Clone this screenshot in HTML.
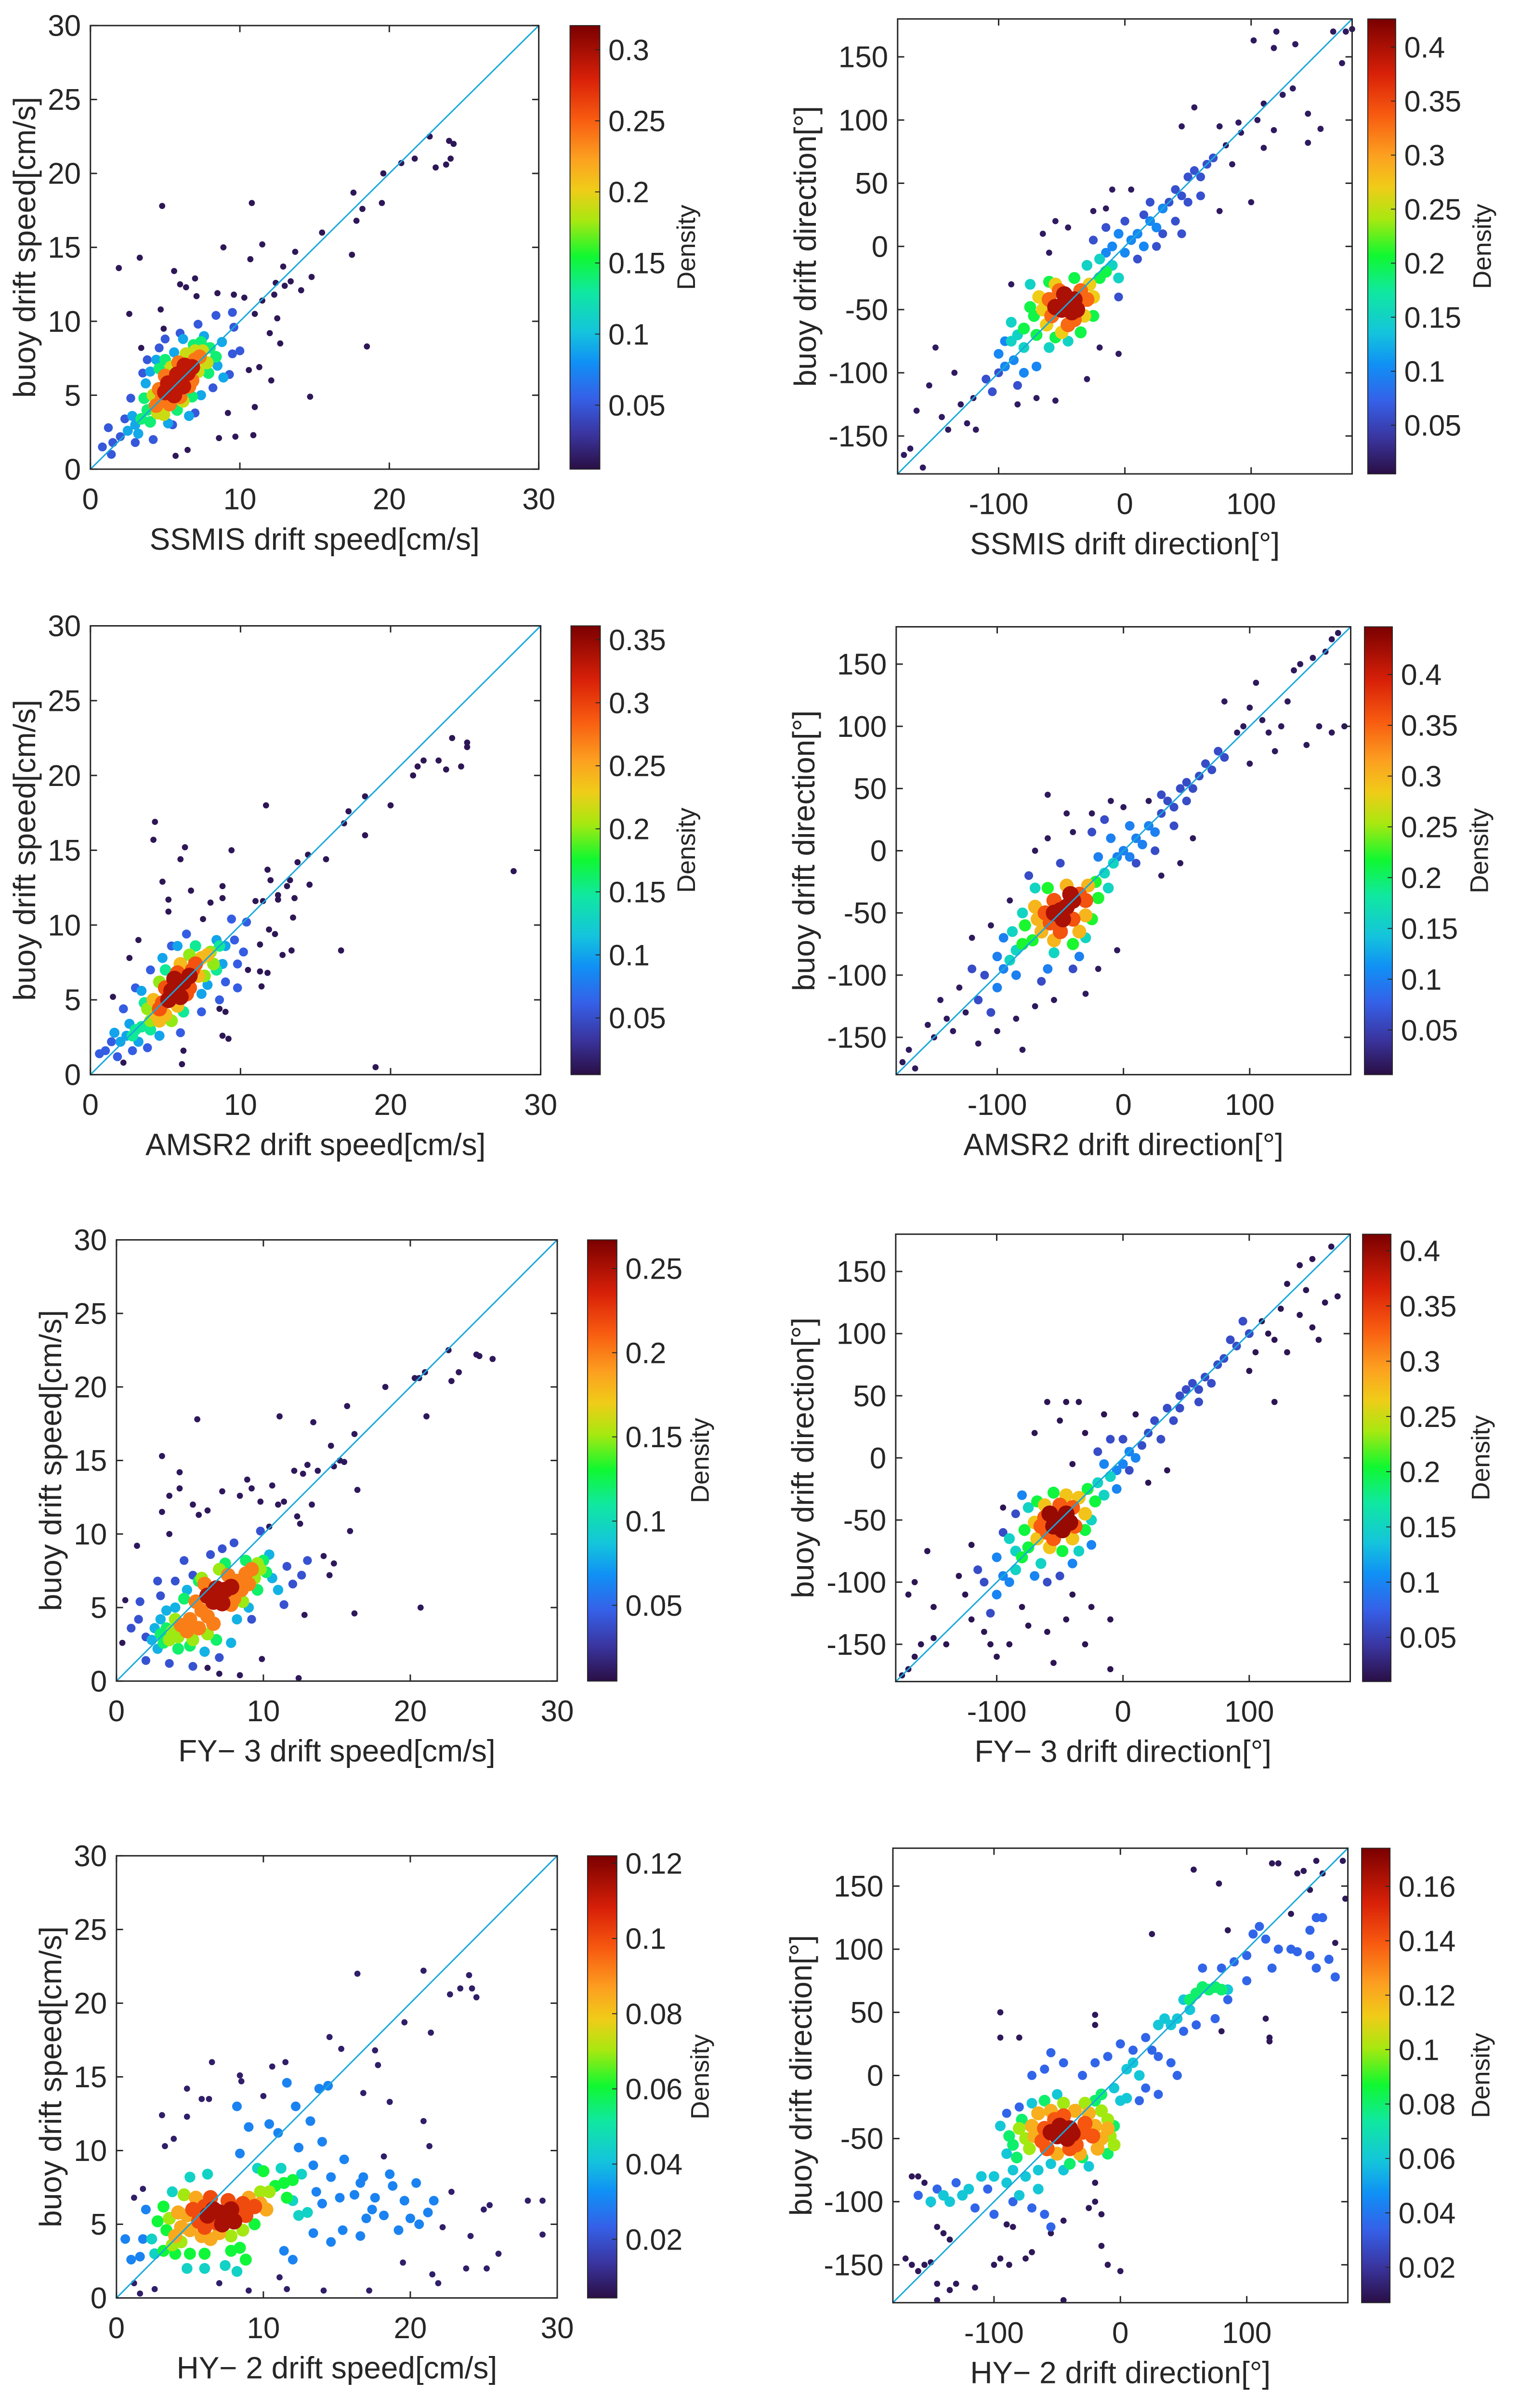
<!DOCTYPE html>
<html><head><meta charset="utf-8"><title>Drift density scatter</title>
<style>
html,body{margin:0;padding:0;background:#fff;overflow:hidden;}
svg{display:block;font-family:"Liberation Sans",Arial,sans-serif;}
</style></head>
<body>
<svg id="fig" xmlns="http://www.w3.org/2000/svg" width="3183" height="5072" viewBox="0 0 3183 5072">
<defs>
<linearGradient id="cmap" x1="0" y1="1" x2="0" y2="0">
<stop offset="0" stop-color="#2a0f45"/><stop offset="0.08" stop-color="#3a35a0"/><stop offset="0.16" stop-color="#3560e8"/>
<stop offset="0.24" stop-color="#1090f5"/><stop offset="0.31" stop-color="#14c4dc"/><stop offset="0.40" stop-color="#10e8a0"/>
<stop offset="0.48" stop-color="#10f830"/><stop offset="0.56" stop-color="#a8e810"/><stop offset="0.63" stop-color="#f0cc18"/>
<stop offset="0.70" stop-color="#fca020"/><stop offset="0.79" stop-color="#f85a10"/><stop offset="0.88" stop-color="#d82008"/>
<stop offset="1" stop-color="#7a0000"/>
</linearGradient>
</defs>
<g id="root" transform="scale(0.983)"></g>
</svg>
<script>
// ---------- DATA (point groups: each group has one density value) ----------
const ssmisSpeedDensity=[0.01,0.05,0.09,0.14,0.19,0.24,0.29];
const ssmisSpeedPts=[
[[10.3,11.6],[11,10.5],[11.5,11.4],[12.3,11.8],[12.5,10.2],[12,9.2],[13,12.4],[12.7,8.5],[13.7,14.7],[15.5,16],[14.8,13],[17.5,14.5],[17.8,16.8],[18.2,17.6],[17.6,18.7],[19.5,18],[19.6,20],[20.8,20.7],[21.7,21],[22.7,22.5],[23.1,20.4],[23.8,20.6],[24,22.2],[24.3,22],[24.1,21],[18.5,8.3],[14.7,4.9],[10.8,18],[4.8,17.8],[1.9,13.6],[3.3,14.3],[8.9,15],[11.5,15.2],[10.7,14.2],[5.6,13.4],[2.6,10.5],[4.7,10.8],[6,12.5],[6.4,12.3],[7,12.9],[8.5,11.9],[9.6,11.8],[11,4.2],[10.9,2.3],[9.7,2.2],[8.6,2.1],[6.5,1.3],[5.7,0.9],[9.2,3.8],[10.6,6.7],[12.1,6],[11.3,6.9],[7.1,11.7],[13.4,12.7],[12.9,13.7],[14.1,12.1],[12.4,12.6],[3.4,8.2],[4.9,9.5]],
[[2,2.2],[1.5,1.8],[2.3,3.4],[1.2,2.8],[3.5,6.5],[4.6,8.2],[9.6,9.6],[9.5,7.8],[8.2,5.5],[7,3.8],[4.2,2],[5.5,3],[3,1.8],[6,9.2],[9.5,10.6],[10,8],[2.7,4.8],[5,8.8],[0.8,1.5],[1.4,1],[9.3,6.4],[7.2,9.8],[8.4,10.4],[3.8,7.4]],
[[3,3],[2.8,3.6],[3.2,2.4],[8.8,8.6],[8.5,7],[7.4,5],[4,6.6],[5.2,3.1],[6.2,8.8],[3.7,5.8],[7.6,9],[2.5,2.6],[5.6,7.9],[8.9,6.2],[4.4,7.4],[6.6,3.6]],
[[3.8,4],[4,3.2],[8,8.2],[7.9,6.5],[5,7.4],[6.9,8.4],[3.6,4.8],[6.8,4.9],[4.6,6.8],[3.4,3.4],[8.4,7.6],[5.8,4],[7.4,8.6],[4.2,4.2]],
[[7.5,8],[4.2,5],[6.2,4.6],[5.4,6.9],[7.2,6.6],[4.5,3.8],[6.4,7.8],[7.8,7.2],[4.9,3.7],[7,8]],
[[4.8,4.8],[7,7.4],[5,6.3],[6.6,5.6],[7.3,7.6],[4.6,5.4],[5.9,7.2],[6.8,6],[5.3,4.4],[4.4,4.3],[6,4.9]],
[[5.5,5.5],[6,6],[5.8,6.4],[6.2,5.6],[5.2,5.8],[6.5,6.5],[5.6,5],[6.8,6.9],[5,5.2],[6.3,7]]
];
const ssmisDirDensity=[0.015,0.06,0.1,0.15,0.2,0.27,0.33,0.4];
const ssmisDirPts=[
[[-120,-120],[-130,-125],[-125,-140],[-140,-145],[-145,-135],[-150,-80],[-155,-110],[-165,-130],[-170,-160],[-175,-165],[-160,-175],[-135,-100],[-118,-145],[-90,-30],[-85,-125],[-70,-120],[-55,-122],[-65,10],[-55,20],[-45,15],[-60,-5],[-25,28],[-10,45],[5,45],[-15,30],[-30,-105],[-5,-85],[-20,-80],[75,95],[55,110],[45,95],[90,98],[80,80],[85,65],[100,35],[75,28],[110,78],[105,100],[110,113],[118,92],[125,120],[133,125],[145,105],[145,82],[155,93],[135,160],[120,170],[118,157],[102,163],[165,170],[172,145],[175,170],[180,172],[92,90]],
[[35,35],[40,45],[45,40],[50,55],[55,60],[60,55],[65,65],[-25,5],[-15,15],[0,20],[10,-10],[25,0],[20,35],[40,20],[30,10],[50,35],[70,70],[60,40],[-5,-40],[-100,-100],[-110,-105],[-105,-115],[-85,-110],[15,25],[45,10]],
[[-95,-95],[-88,-90],[-100,-85],[0,-5],[5,5],[-10,0],[10,10],[15,0],[20,20],[-80,-100],[-15,-5],[-95,-75],[25,15],[30,30],[-70,-95],[-5,10]],
[[-80,-80],[-85,-70],[-10,-15],[-20,-10],[-90,-75],[-30,-15],[-60,-80],[-5,-25],[-45,-75],[-75,-30],[-90,-60]],
[[-70,-70],[-20,-25],[-72,-55],[-60,-28],[-25,-55],[-80,-65],[-15,-20],[-40,-25],[-55,-72],[-35,-68],[-75,-48]],
[[-62,-62],[-28,-30],[-65,-50],[-55,-30],[-32,-55],[-25,-40],[-50,-68],[-68,-40]],
[[-58,-55],[-35,-35],[-52,-35],[-40,-58],[-30,-42],[-60,-42],[-45,-62]],
[[-45,-45],[-50,-50],[-40,-42],[-48,-38],[-42,-52],[-55,-48],[-38,-50]]
];
const amsrSpeedDensity=[0.01,0.06,0.1,0.15,0.2,0.24,0.29,0.34];
const amsrSpeedPts=[
[[2.2,0.8],[2.6,7.8],[1.5,5.2],[3.2,9],[4.3,16.9],[4.2,15.7],[6.3,15.2],[6,14.4],[4.8,12.9],[5.2,11.7],[5.2,10.9],[6.7,12.3],[7.5,10.4],[8,11.5],[8.8,12.6],[8.8,11.8],[9.4,15],[11.7,18],[11.8,13.7],[12,13],[12.5,12],[11.5,11.6],[11,11.6],[12.5,11.7],[13.1,12.6],[13.3,13],[13.6,11.8],[13.5,10.5],[13.4,8.3],[12.8,8],[12.3,9.4],[11.9,9.7],[11.3,8.7],[11.3,6.9],[11.4,5.9],[11.8,6.8],[10.5,7],[9,4.2],[8.6,4.4],[8.8,2.6],[9.2,2.4],[6.1,0.7],[6.2,1.6],[13.8,14.2],[14.5,14.7],[15.7,14.4],[14.6,12.7],[16.9,16.8],[17.2,17.6],[16.7,8.3],[18.3,16],[18.3,18.6],[20,18],[21.5,20],[21.8,20.6],[22.2,21],[23.2,21],[23.7,20.4],[24.1,22.5],[24.7,20.6],[25.1,22.2],[25.1,21.9],[19,0.5],[28.2,13.6]],
[[1,1.6],[0.6,1.4],[1.4,2.2],[1.8,1.2],[2.2,4.4],[3,5.8],[4,7],[5.4,8.6],[6.4,9.4],[9.4,10.4],[9.6,9],[9.8,7.4],[9,6.2],[8.6,5],[7.4,4.2],[6,2.8],[3.8,1.8],[2.8,1.6],[9.8,5.8],[10.4,10.2],[10.2,8.2]],
[[2.4,2.6],[2.6,3.4],[2,2.2],[9,8.6],[8.8,7.4],[7.8,6],[3.4,5.6],[4.8,7.8],[4.6,2.6],[3.2,2.2],[5.8,8.6],[7.4,5.4],[1.6,2.8],[8.4,9]],
[[3.4,3.2],[3,3],[8.6,8.6],[8.4,7],[3.6,4.8],[5,7],[6.2,4.2],[7,8.6],[2.8,2.6],[4,3]],
[[4,3.6],[8,8.2],[3.8,4.4],[7.6,6.6],[5.4,3.6],[6.6,8],[8.2,7.4],[4.6,6.2]],
[[4.4,4],[7.4,7.8],[5,4],[7.2,6.6],[4.2,5],[6,7.4],[7.8,8],[4.6,3.6],[5.8,4.6]],
[[4.8,4.8],[6.8,7],[5,5.8],[6.4,5.4],[7,7.4],[4.6,4.4],[5.8,6.8],[6.6,5.8]],
[[5.8,5.8],[6.2,6.2],[5.4,5.6],[6,5.2],[5.6,6.4],[6.6,6.6],[5.2,5]]
];
const amsrDirDensity=[0.015,0.06,0.1,0.16,0.22,0.3,0.36,0.42];
const amsrDirPts=[
[[-175,-170],[-170,-160],[-165,-175],[-150,-150],[-155,-140],[-140,-135],[-145,-120],[-135,-145],[-130,-110],[-125,-130],[-115,-155],[-100,-145],[-85,-135],[-80,-160],[-70,-125],[-55,-120],[-30,-115],[-20,-95],[-5,-80],[-105,-60],[-120,-70],[-90,-40],[-60,45],[-45,30],[-40,15],[-60,10],[-70,0],[-25,30],[-10,40],[0,35],[20,40],[30,-20],[45,-10],[55,10],[90,95],[95,100],[100,115],[80,120],[105,135],[110,105],[115,95],[125,100],[130,120],[135,145],[140,150],[150,155],[160,160],[165,170],[170,175],[155,100],[165,95],[175,100],[145,85],[120,80],[100,70]],
[[30,30],[35,40],[40,35],[45,50],[50,55],[55,50],[60,60],[65,70],[70,65],[50,40],[40,20],[30,45],[-25,15],[-15,25],[10,-10],[25,0],[-110,-100],[-115,-120],[-105,-130],[-120,-95],[75,80],[80,75],[-65,-105],[-40,-95],[-75,-20],[-50,-10]],
[[-95,-95],[-100,-85],[-5,-5],[0,0],[5,-5],[10,10],[15,5],[-10,10],[20,20],[-95,-70],[-85,-100],[-20,-5],[25,15],[5,20],[-60,-95],[-35,-85],[-100,-110]],
[[-85,-80],[-15,-18],[-88,-65],[-12,-30],[-70,-30],[-55,-82],[-30,-70],[-90,-88],[-8,-10],[-80,-50]],
[[-72,-72],[-22,-25],[-78,-60],[-20,-38],[-60,-30],[-40,-75],[-25,-55],[-80,-75]],
[[-65,-65],[-28,-28],[-68,-55],[-45,-28],[-30,-52],[-55,-72],[-70,-45],[-35,-65]],
[[-58,-58],[-35,-35],[-55,-40],[-40,-55],[-62,-50],[-30,-40],[-50,-65]],
[[-45,-45],[-50,-48],[-40,-40],[-48,-55],[-55,-50],[-42,-35]]
];
const fySpeedDensity=[0.01,0.04,0.08,0.12,0.15,0.2,0.25];
const fySpeedPts=[
[[0.6,5.5],[0.4,2.6],[1.4,9.2],[3.1,15.3],[3.1,11.5],[4.3,14.2],[4.3,13.1],[3.6,12.6],[3.6,10],[5.5,17.8],[5.2,12],[5.6,11.3],[6.2,11.6],[7.2,12.9],[8.9,13.7],[8.4,12.6],[9.2,13.1],[9.8,12.2],[10.6,13.3],[11.1,18],[11,12],[12.1,14.3],[12.7,14.1],[13,14.7],[13.4,17.6],[13.7,14.3],[14.6,16],[14.8,14.6],[15.2,15],[15.5,14.9],[15.7,18.7],[16.2,16.8],[16.4,13],[15.9,10.2],[14.8,8],[14.5,7.2],[14.1,8.5],[16.2,4.6],[12.8,4.5],[12.4,0.2],[9.9,1.5],[8.4,0.4],[7,0.5],[6.2,0.9],[18.3,20],[20.3,20.6],[20.6,20.6],[21,21],[21.1,18],[22.6,22.5],[22.8,20.4],[23.3,21],[24.5,22.2],[24.7,22.1],[25.6,21.9],[20.7,5],[10.4,10.5],[12.5,10.7],[11.4,12.2],[13.3,12],[12.3,11.2]],
[[1.5,4.2],[1.6,5.4],[2,3],[3,5.8],[4,6.8],[5.2,7.2],[6.4,8.6],[7.2,9],[8,9.4],[11.6,7.8],[12,6.6],[11.4,5.2],[9.2,4.2],[7,1.6],[5.2,1],[3.6,1.2],[2,1.4],[12.6,7.2],[9.8,10.2],[4.6,8.2],[1,3.6],[13,8.2],[2.8,6.8]],
[[2.8,2.2],[2.6,3.6],[10.6,7],[9,5],[4,5],[3.4,4.8],[6,2],[7.8,2.6],[10.4,8.6],[3,4.2],[2.4,2.8],[8.2,4.2],[11,6.2],[4.8,6.2]],
[[3.4,3.6],[3.2,2.6],[10,8.2],[9.6,6.2],[5,2.4],[6.8,2.8],[4.6,5.6],[7.4,8],[8.8,8.2],[3,3.2],[10.2,7.4],[4.2,2.2],[5.6,6.8]],
[[4.2,3],[9.6,8],[5.2,2.8],[9.4,7],[4,4.2],[7,7.6],[3.8,3.4],[8.6,5.4],[6.2,3.2],[5.8,7],[9.8,7.6],[3.6,2.8]],
[[5.8,4.8],[8.2,6.8],[6.2,4.4],[8.5,6.2],[5.4,5.4],[7.6,7.2],[5,4.2],[8.8,7.3],[6.6,3.9],[5.6,3.6],[4.8,3.4],[9.2,7.6],[7.8,5.2],[6,6.6],[9,6.6],[4.4,3.8],[8,5.6]],
[[7,5.8],[6.6,5.4],[7.4,6.2],[6.8,6.3],[7.2,5.3],[6.2,5.8],[7.8,6.4]]
];
const fyDirDensity=[0.015,0.06,0.1,0.15,0.2,0.27,0.33,0.4];
const fyDirPts=[
[[-170,-170],[-165,-160],[-175,-175],[-160,-150],[-150,-145],[-140,-150],[-150,-120],[-170,-110],[-165,-100],[-155,-75],[-120,-130],[-125,-110],[-130,-95],[-110,-140],[-105,-150],[-100,-160],[-90,-150],[-80,-120],[-75,-135],[-60,-140],[-45,-130],[-40,-110],[-25,-120],[-10,-130],[-30,-150],[-55,-165],[-10,-170],[-60,45],[-45,45],[-35,45],[-50,30],[-70,20],[-40,-5],[-30,20],[-15,35],[10,35],[20,-20],[35,-10],[-95,-40],[-120,-70],[110,110],[115,100],[105,85],[120,95],[125,120],[130,140],[140,155],[150,160],[165,170],[170,130],[160,125],[150,105],[140,115],[130,85],[120,45],[100,70],[155,95],[145,135]],
[[20,20],[15,10],[25,30],[35,40],[40,30],[45,50],[50,55],[55,60],[60,55],[65,65],[70,60],[75,75],[80,80],[45,40],[30,15],[85,95],[90,90],[-20,5],[-10,15],[5,-10],[-110,-100],[-105,-125],[-115,-90],[-60,-100],[-50,-95],[-95,-60],[-85,-45],[0,15],[60,45],[100,100],[95,110]],
[[-95,-95],[-90,-100],[-100,-80],[-5,-10],[0,-5],[5,5],[-15,-5],[-80,-30],[-70,-95],[-25,-70],[10,0],[-5,-25],[-100,-110],[-40,-85]],
[[-85,-75],[-20,-20],[-85,-90],[-90,-65],[-15,-30],[-65,-85],[-35,-75],[-75,-40],[-25,-50],[-10,-15]],
[[-75,-72],[-28,-25],[-78,-58],[-48,-75],[-30,-58],[-22,-35],[-68,-35],[-55,-28],[-80,-80]],
[[-68,-65],[-35,-32],[-70,-52],[-45,-30],[-30,-45],[-58,-72],[-40,-65],[-62,-38]],
[[-60,-60],[-40,-40],[-62,-48],[-50,-38],[-38,-55],[-55,-65],[-65,-55]],
[[-50,-50],[-55,-55],[-45,-45],[-48,-58],[-58,-45],[-42,-52]]
];
const hySpeedDensity=[0.008,0.03,0.045,0.06,0.07,0.085,0.1,0.115];
const hySpeedPts=[
[[3.1,12.4],[3.3,10.3],[3.9,10.8],[4.8,12.3],[4.8,14.2],[6.3,13.5],[6.5,16],[8.4,15.1],[8.5,14.7],[10.6,15.7],[11.5,16],[14.5,17.7],[15.3,16.9],[16.4,22],[17.6,16.8],[17.8,15.8],[18.6,13.3],[19.6,18.7],[20.9,22.2],[21.4,18],[21.3,10.3],[20.9,12],[22.7,20.6],[23.4,21],[24,21.9],[24.2,21],[24.5,20.4],[28,6.6],[29,6.6],[29,4.3],[25.4,6.3],[25,6],[26,3],[24.1,4.2],[23.8,2],[25.2,2],[22.2,4.8],[21.9,1],[21.5,1.6],[19.5,2.4],[17.2,0.5],[14.1,0.5],[11.6,0.6],[11.1,1.4],[9,0.5],[2.6,0.6],[1.6,0.3],[1.2,1],[1.8,7.4],[1.2,6.8],[16.8,13.9],[22.8,7.2],[18.2,9.6],[10,13.7],[5.8,13.5],[7,1]],
[[13.6,7.2],[14,6.4],[13.4,9],[14,10.6],[13.2,12],[12.2,13],[11,11.2],[10.4,11.8],[14.6,8.2],[15.2,6.8],[16.2,7],[16.8,8.2],[17.4,6],[18.2,5.6],[18.8,7.6],[19.6,6.6],[20,5.4],[19.2,4.6],[20.6,5],[21.6,6.6],[16.6,4.2],[15.4,4.6],[14.6,3.8],[13.4,4.4],[12,2.6],[11.4,3.2],[12.4,10.2],[13.8,14.2],[14.4,14.4],[11.6,14.6],[9,11.6],[8.2,13],[1.8,4],[1,2.6],[0.6,4],[1.6,2.8],[17.6,6.8],[18.6,8.4],[2,6],[8.4,9.8],[15.5,9.4],[20.4,7.8],[21.2,5.8],[16.6,7.8],[17,5.4]],
[[2.6,3],[2.4,4],[6,2],[7.4,2.2],[8.2,1.8],[4.8,2],[12,6.6],[12.4,5.6],[11.2,8.8],[9.6,8.8],[13,5.8],[12.6,8.4],[3.8,7.2],[5,8.2],[6.2,8.4]],
[[3.2,3.2],[3.4,4.6],[2.8,5.2],[10.8,7.6],[11.4,7.8],[11.6,6.8],[8.4,3.4],[8.8,2.6],[7.8,3.2],[5,3],[6,3],[3.2,6.2],[9.4,5],[10,8.6],[12,8],[4,3]],
[[3.8,3.6],[4.4,3.8],[7.8,4.2],[9.8,7.2],[8.6,4.6],[4.6,7],[3.6,5.4],[10.4,7.2]],
[[4.8,5.6],[5,4.6],[9.8,6.4],[4.4,4.8],[5.8,4.2],[9,6.8],[4.2,5.8],[7,4.4],[6.4,4],[5.4,6.8],[10.2,6],[4,4.2]],
[[6,6.2],[8.3,5.8],[6.8,5.1],[5.6,5.2],[8.6,6.4],[6.4,6.8],[7.6,6.6],[5.2,6],[8.8,5.6],[9.4,6.2],[6,4.8]],
[[7,5.8],[7.5,5.4],[6.6,6],[7.8,6],[7.2,5],[6.2,5.6],[8,5.2]]
];
const hyDirDensity=[0.01,0.035,0.06,0.08,0.1,0.12,0.14,0.165];
const hyDirPts=[
[[-170,-145],[-165,-150],[-160,-155],[-155,-150],[-150,-148],[-145,-165],[-135,-170],[-130,-165],[-115,-168],[-100,-150],[-95,-145],[-88,-150],[-75,-145],[-70,-140],[-90,-118],[-85,-120],[-55,-125],[-45,-115],[-25,-105],[-15,-110],[-15,-135],[-10,-150],[0,-155],[-45,-178],[-145,-178],[-160,-80],[-165,-80],[-155,-85],[-150,-102],[-145,-120],[-140,-125],[-135,-130],[-95,50],[-95,30],[-80,30],[-20,48],[-20,40],[-35,-25],[-20,-85],[-20,-100],[25,112],[58,163],[78,152],[85,115],[80,35],[115,45],[118,30],[118,27],[135,128],[150,147],[160,160],[155,170],[170,105],[178,140],[176,170],[120,168],[125,168],[140,160],[145,162]],
[[-105,-90],[-115,-105],[-145,-90],[-130,-85],[-100,-110],[-160,-95],[-85,-100],[-70,-105],[-60,-110],[-55,-120],[-90,-30],[-80,-25],[-70,0],[-60,5],[-55,18],[-45,10],[-30,0],[-20,10],[-10,15],[0,25],[10,20],[20,30],[25,20],[30,15],[40,10],[20,-10],[15,-20],[30,-15],[45,0],[50,35],[60,40],[65,85],[80,85],[75,45],[85,60],[90,90],[100,75],[100,95],[105,112],[110,118],[115,108],[120,85],[125,100],[135,100],[140,98],[150,95],[150,115],[155,125],[160,125],[155,85],[165,92],[170,78]],
[[-90,-62],[-85,-75],[-75,-80],[-90,-85],[-65,-75],[-55,-70],[-45,-75],[-25,-72],[0,-20],[5,-18],[10,10],[-5,-10],[30,40],[35,45],[40,40],[45,45],[50,60],[55,52],[85,68],[-95,-40],[-70,-22],[-50,-15],[-100,-80],[-110,-80],[-120,-90],[-125,-95],[-135,-100],[-140,-95],[-150,-100],[-80,-95],[-65,-90],[5,5],[15,0]],
[[-85,-55],[-82,-65],[-78,-35],[-5,-40],[-20,-20],[-30,-65],[-10,-62],[-40,-70],[-88,-48],[-60,-20],[-15,-15],[55,60],[60,65],[65,70],[70,68],[75,70],[80,68]],
[[-75,-50],[-8,-48],[-72,-58],[-10,-35],[-15,-28],[-80,-42],[-28,-22],[-45,-22],[-5,-55]],
[[-68,-48],[-20,-40],[-25,-30],[-70,-40],[-15,-50],[-50,-62],[-32,-62],[-65,-30],[-10,-42],[-18,-58],[-55,-28],[-36,-28]],
[[-60,-42],[-30,-45],[-52,-35],[-35,-55],[-62,-52],[-28,-38],[-45,-32],[-40,-58],[-22,-48],[-58,-58]],
[[-45,-45],[-50,-48],[-40,-42],[-48,-40],[-42,-50],[-55,-45],[-38,-46]]
];
// axis tick values
const speedXTicks=[0,10,20,30];
const speedYTicks=[0,5,10,15,20,25,30];
const dirXTicks=[-100,0,100];
const dirYTicks=[-150,-100,-50,0,50,100,150];
const cbTicks1=[0.05,0.1,0.15,0.2,0.25,0.3];
const cbTicks2=[0.05,0.1,0.15,0.2,0.25,0.3,0.35,0.4];
const cbTicks3=[0.05,0.1,0.15,0.2,0.25,0.3,0.35];
const cbTicks5=[0.05,0.1,0.15,0.2,0.25];
const cbTicks7=[0.02,0.04,0.06,0.08,0.1,0.12];
const cbTicks8=[0.02,0.04,0.06,0.08,0.1,0.12,0.14,0.16];

// ---------- RENDER ----------
const NS='http://www.w3.org/2000/svg';
const svg=document.getElementById('root');
const STOPS=[[0,[42,15,69]],[0.08,[58,53,160]],[0.16,[53,96,232]],[0.24,[16,144,245]],[0.31,[20,196,220]],[0.40,[16,232,160]],[0.48,[16,248,48]],[0.56,[168,232,16]],[0.63,[240,204,24]],[0.70,[252,160,32]],[0.79,[248,90,16]],[0.88,[216,32,8]],[1,[122,0,0]]];
function cmap(t){t=Math.max(0,Math.min(1,t));for(let i=1;i<STOPS.length;i++){if(t<=STOPS[i][0]){const a=STOPS[i-1],b=STOPS[i];const f=(t-a[0])/(b[0]-a[0]);const c=a[1].map((v,k)=>Math.round(v+(b[1][k]-v)*f));return 'rgb('+c.join(',')+')';}}return 'rgb(122,0,0)';}
function mk(tag,attrs,parent){const e=document.createElementNS(NS,tag);for(const k in attrs)e.setAttribute(k,attrs[k]);parent.appendChild(e);return e;}

const panels=[
{id:'ssmis-speed',ax:[191,1138,54,991],cb:[1204,1267],dom:[0,30],xt:speedXTicks,yt:speedYTicks,xl:'SSMIS drift speed[cm/s]',yl:'buoy drift speed[cm/s]',ylx:52,dx:1450,c:[0.005,0.317],ct:cbTicks1,pts:ssmisSpeedPts,den:ssmisSpeedDensity},
{id:'ssmis-direction',ax:[1896,2856,40,1001],cb:[2889,2948],dom:[-180,180],xt:dirXTicks,yt:dirYTicks,xl:'SSMIS drift direction[°]',yl:'buoy drift direction[°]',ylx:1701,dx:3131,c:[0.005,0.426],ct:cbTicks2,pts:ssmisDirPts,den:ssmisDirDensity},
{id:'amsr2-speed',ax:[191,1142,1322,2270],cb:[1206,1268],dom:[0,30],xt:speedXTicks,yt:speedYTicks,xl:'AMSR2 drift speed[cm/s]',yl:'buoy drift speed[cm/s]',ylx:52,dx:1450,c:[0.005,0.361],ct:cbTicks3,pts:amsrSpeedPts,den:amsrSpeedDensity},
{id:'amsr2-direction',ax:[1893,2853,1324,2270],cb:[2882,2941],dom:[-180,180],xt:dirXTicks,yt:dirYTicks,xl:'AMSR2 drift direction[°]',yl:'buoy drift direction[°]',ylx:1698,dx:3125,c:[0.006,0.447],ct:cbTicks2,pts:amsrDirPts,den:amsrDirDensity},
{id:'fy3-speed',ax:[246,1177,2619,3551],cb:[1241,1303],dom:[0,30],xt:speedXTicks,yt:speedYTicks,xl:'FY− 3 drift speed[cm/s]',yl:'buoy drift speed[cm/s]',ylx:107,dx:1479,c:[0.005,0.267],ct:cbTicks5,pts:fySpeedPts,den:fySpeedDensity},
{id:'fy3-direction',ax:[1892,2852,2607,3552],cb:[2878,2938],dom:[-180,180],xt:dirXTicks,yt:dirYTicks,xl:'FY− 3 drift direction[°]',yl:'buoy drift direction[°]',ylx:1696,dx:3128,c:[0.01,0.415],ct:cbTicks2,pts:fyDirPts,den:fyDirDensity},
{id:'hy2-speed',ax:[246,1177,3920,4854],cb:[1241,1303],dom:[0,30],xt:speedXTicks,yt:speedYTicks,xl:'HY− 2 drift speed[cm/s]',yl:'buoy drift speed[cm/s]',ylx:107,dx:1479,c:[0.0044,0.122],ct:cbTicks7,pts:hySpeedPts,den:hySpeedDensity},
{id:'hy2-direction',ax:[1886,2847,3904,4864],cb:[2876,2936],dom:[-180,180],xt:dirXTicks,yt:dirYTicks,xl:'HY− 2 drift direction[°]',yl:'buoy drift direction[°]',ylx:1692,dx:3128,c:[0.007,0.174],ct:cbTicks8,pts:hyDirPts,den:hyDirDensity}
];
const TXT='#262626';
panels.forEach(p=>{
  const g=mk('g',{},svg);
  
  
  const [x0,x1,y0,y1]=p.ax;
  const sx=v=>x0+(v-p.dom[0])/(p.dom[1]-p.dom[0])*(x1-x0);
  const sy=v=>y1-(v-p.dom[0])/(p.dom[1]-p.dom[0])*(y1-y0);
  const tn=d=>(d-p.c[0])/(p.c[1]-p.c[0]);
  const pg=mk('g',{},g);
  
  
  p.pts.forEach((grp,gi)=>{
    const t=tn(p.den[gi]);
    const col=cmap(t);
    const r=t<0.1?6.5:(8+10*t);
    grp.forEach(pt=>{
      const c=mk('circle',{cx:sx(pt[0]).toFixed(1),cy:sy(pt[1]).toFixed(1),r:r.toFixed(1),fill:col},pg);
      
      
    });
  });
  const ln=mk('line',{x1:sx(p.dom[0]),y1:sy(p.dom[0]),x2:sx(p.dom[1]),y2:sy(p.dom[1]),stroke:'#18a8dc','stroke-width':3},g);
  
  
  const bx=mk('rect',{x:x0,y:y0,width:x1-x0,height:y1-y0,fill:'none',stroke:TXT,'stroke-width':3},g);
  
  
  const TL=14;
  p.xt.forEach(v=>{
    const X=sx(v);
    mk('line',{x1:X,y1:y1,x2:X,y2:y1-TL,stroke:TXT,'stroke-width':3},g);
    mk('line',{x1:X,y1:y0,x2:X,y2:y0+TL,stroke:TXT,'stroke-width':3},g);
    const t=mk('text',{x:X,y:y1+85,'font-size':63,fill:TXT,'text-anchor':'middle'},g);
    t.textContent=String(v);
    
    
  });
  p.yt.forEach(v=>{
    const Y=sy(v);
    mk('line',{x1:x0,y1:Y,x2:x0+TL,y2:Y,stroke:TXT,'stroke-width':3},g);
    mk('line',{x1:x1,y1:Y,x2:x1-TL,y2:Y,stroke:TXT,'stroke-width':3},g);
    const t=mk('text',{x:x0-20,y:Y+22,'font-size':63,fill:TXT,'text-anchor':'end'},g);
    t.textContent=String(v);
    
    
  });
  const xl=mk('text',{x:(x0+x1)/2,y:y1+170,'font-size':65,fill:TXT,'text-anchor':'middle'},g);
  xl.textContent=p.xl;
  
  
  const yc=(y0+y1)/2;
  const yl=mk('text',{x:p.ylx,y:yc,'font-size':65,fill:TXT,'text-anchor':'middle','dominant-baseline':'central',transform:'rotate(-90 '+p.ylx+' '+yc+')'},g);
  yl.textContent=p.yl;
  
  
  const [c0,c1]=p.cb;
  const cb=mk('rect',{x:c0,y:y0,width:c1-c0,height:y1-y0,fill:'url(#cmap)',stroke:TXT,'stroke-width':2},g);
  
  
  const cy=v=>y1-(v-p.c[0])/(p.c[1]-p.c[0])*(y1-y0);
  p.ct.forEach(v=>{
    const Y=cy(v);
    mk('line',{x1:c1,y1:Y,x2:c1-10,y2:Y,stroke:TXT,'stroke-width':2},g);
    const t=mk('text',{x:c1+18,y:Y+22,'font-size':62,fill:TXT},g);
    t.textContent=String(v);
    
    
  });
  const dl=mk('text',{x:p.dx,y:yc,'font-size':54,fill:TXT,'text-anchor':'middle','dominant-baseline':'central',transform:'rotate(-90 '+p.dx+' '+yc+')'},g);
  dl.textContent='Density';
  
  
});
</script>
</body></html>
